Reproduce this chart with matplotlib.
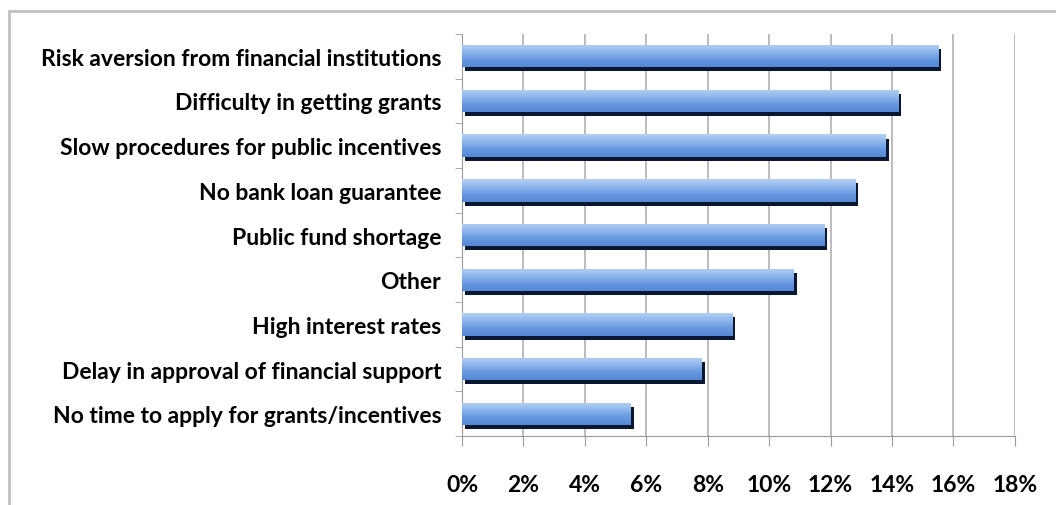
import numpy as np
import matplotlib.pyplot as plt
from matplotlib.patches import Rectangle
from matplotlib.colors import LinearSegmentedColormap

labels = ['Risk aversion from financial institutions',
          'Difficulty in getting grants',
          'Slow procedures for public incentives',
          'No bank loan guarantee',
          'Public fund shortage',
          'Other',
          'High interest rates',
          'Delay in approval of financial support',
          'No time to apply for grants/incentives']
values = [15.5, 14.2, 13.8, 12.8, 11.8, 10.8, 8.8, 7.8, 5.5]
xticks = [0, 2, 4, 6, 8, 10, 12, 14, 16, 18]

plt.rcParams['font.family'] = ['Lato', 'DejaVu Sans']

fig = plt.figure(figsize=(10.56, 5.06), dpi=100)
ax = fig.add_axes([0.4375, 0.136, 0.5235, 0.795])

# outer frame of the chart area
fig.patches.append(Rectangle((0.0085, -0.05), 1.1, 1.026, transform=fig.transFigure,
                             fill=False, edgecolor='#c4c4c4', linewidth=2.2))

ypos = np.arange(len(labels))
h = 0.5
grad = np.linspace(0, 1, 64).reshape(-1, 1)
cmap = LinearSegmentedColormap.from_list('bar', ['#b4d0f4', '#8db6ec', '#6699e0', '#5588d2'])

for y, v in zip(ypos, values):
    # shadow
    ax.barh(y + 0.09, v, height=h, left=0.1, color='#0b1730', zorder=2)
    bar = ax.barh(y, v, height=h, color='none', zorder=3)[0]
    im = ax.imshow(grad, extent=[0, v, y + h / 2, y - h / 2], cmap=cmap,
                   aspect='auto', zorder=3)
    im.set_clip_path(bar)

ax.set_xlim(0, 18)
ax.set_ylim(len(labels) - 0.5, -0.5)
ax.set_aspect('auto')
ax.set_xticks(xticks)
ax.set_xticklabels([f'{t}%' for t in xticks], fontsize=16.5, fontweight='bold')
ax.set_yticks(ypos)
ax.set_yticklabels(labels, fontsize=16.5, fontweight='bold')
ax.set_yticks(np.arange(-0.5, len(labels)), minor=True)
ax.tick_params(axis='y', which='major', length=0, pad=15)
ax.tick_params(axis='y', which='minor', length=5, color='#9a9a9a')
ax.tick_params(axis='x', length=7, color='#9a9a9a', pad=20)
ax.grid(axis='x', color='#b0b0b0', linewidth=1.2, zorder=0)
ax.set_axisbelow(True)
for s in ['top', 'right']:
    ax.spines[s].set_visible(False)
ax.spines['left'].set_color('#9a9a9a')
ax.spines['bottom'].set_color('#9a9a9a')

plt.savefig('out.png', dpi=100)
